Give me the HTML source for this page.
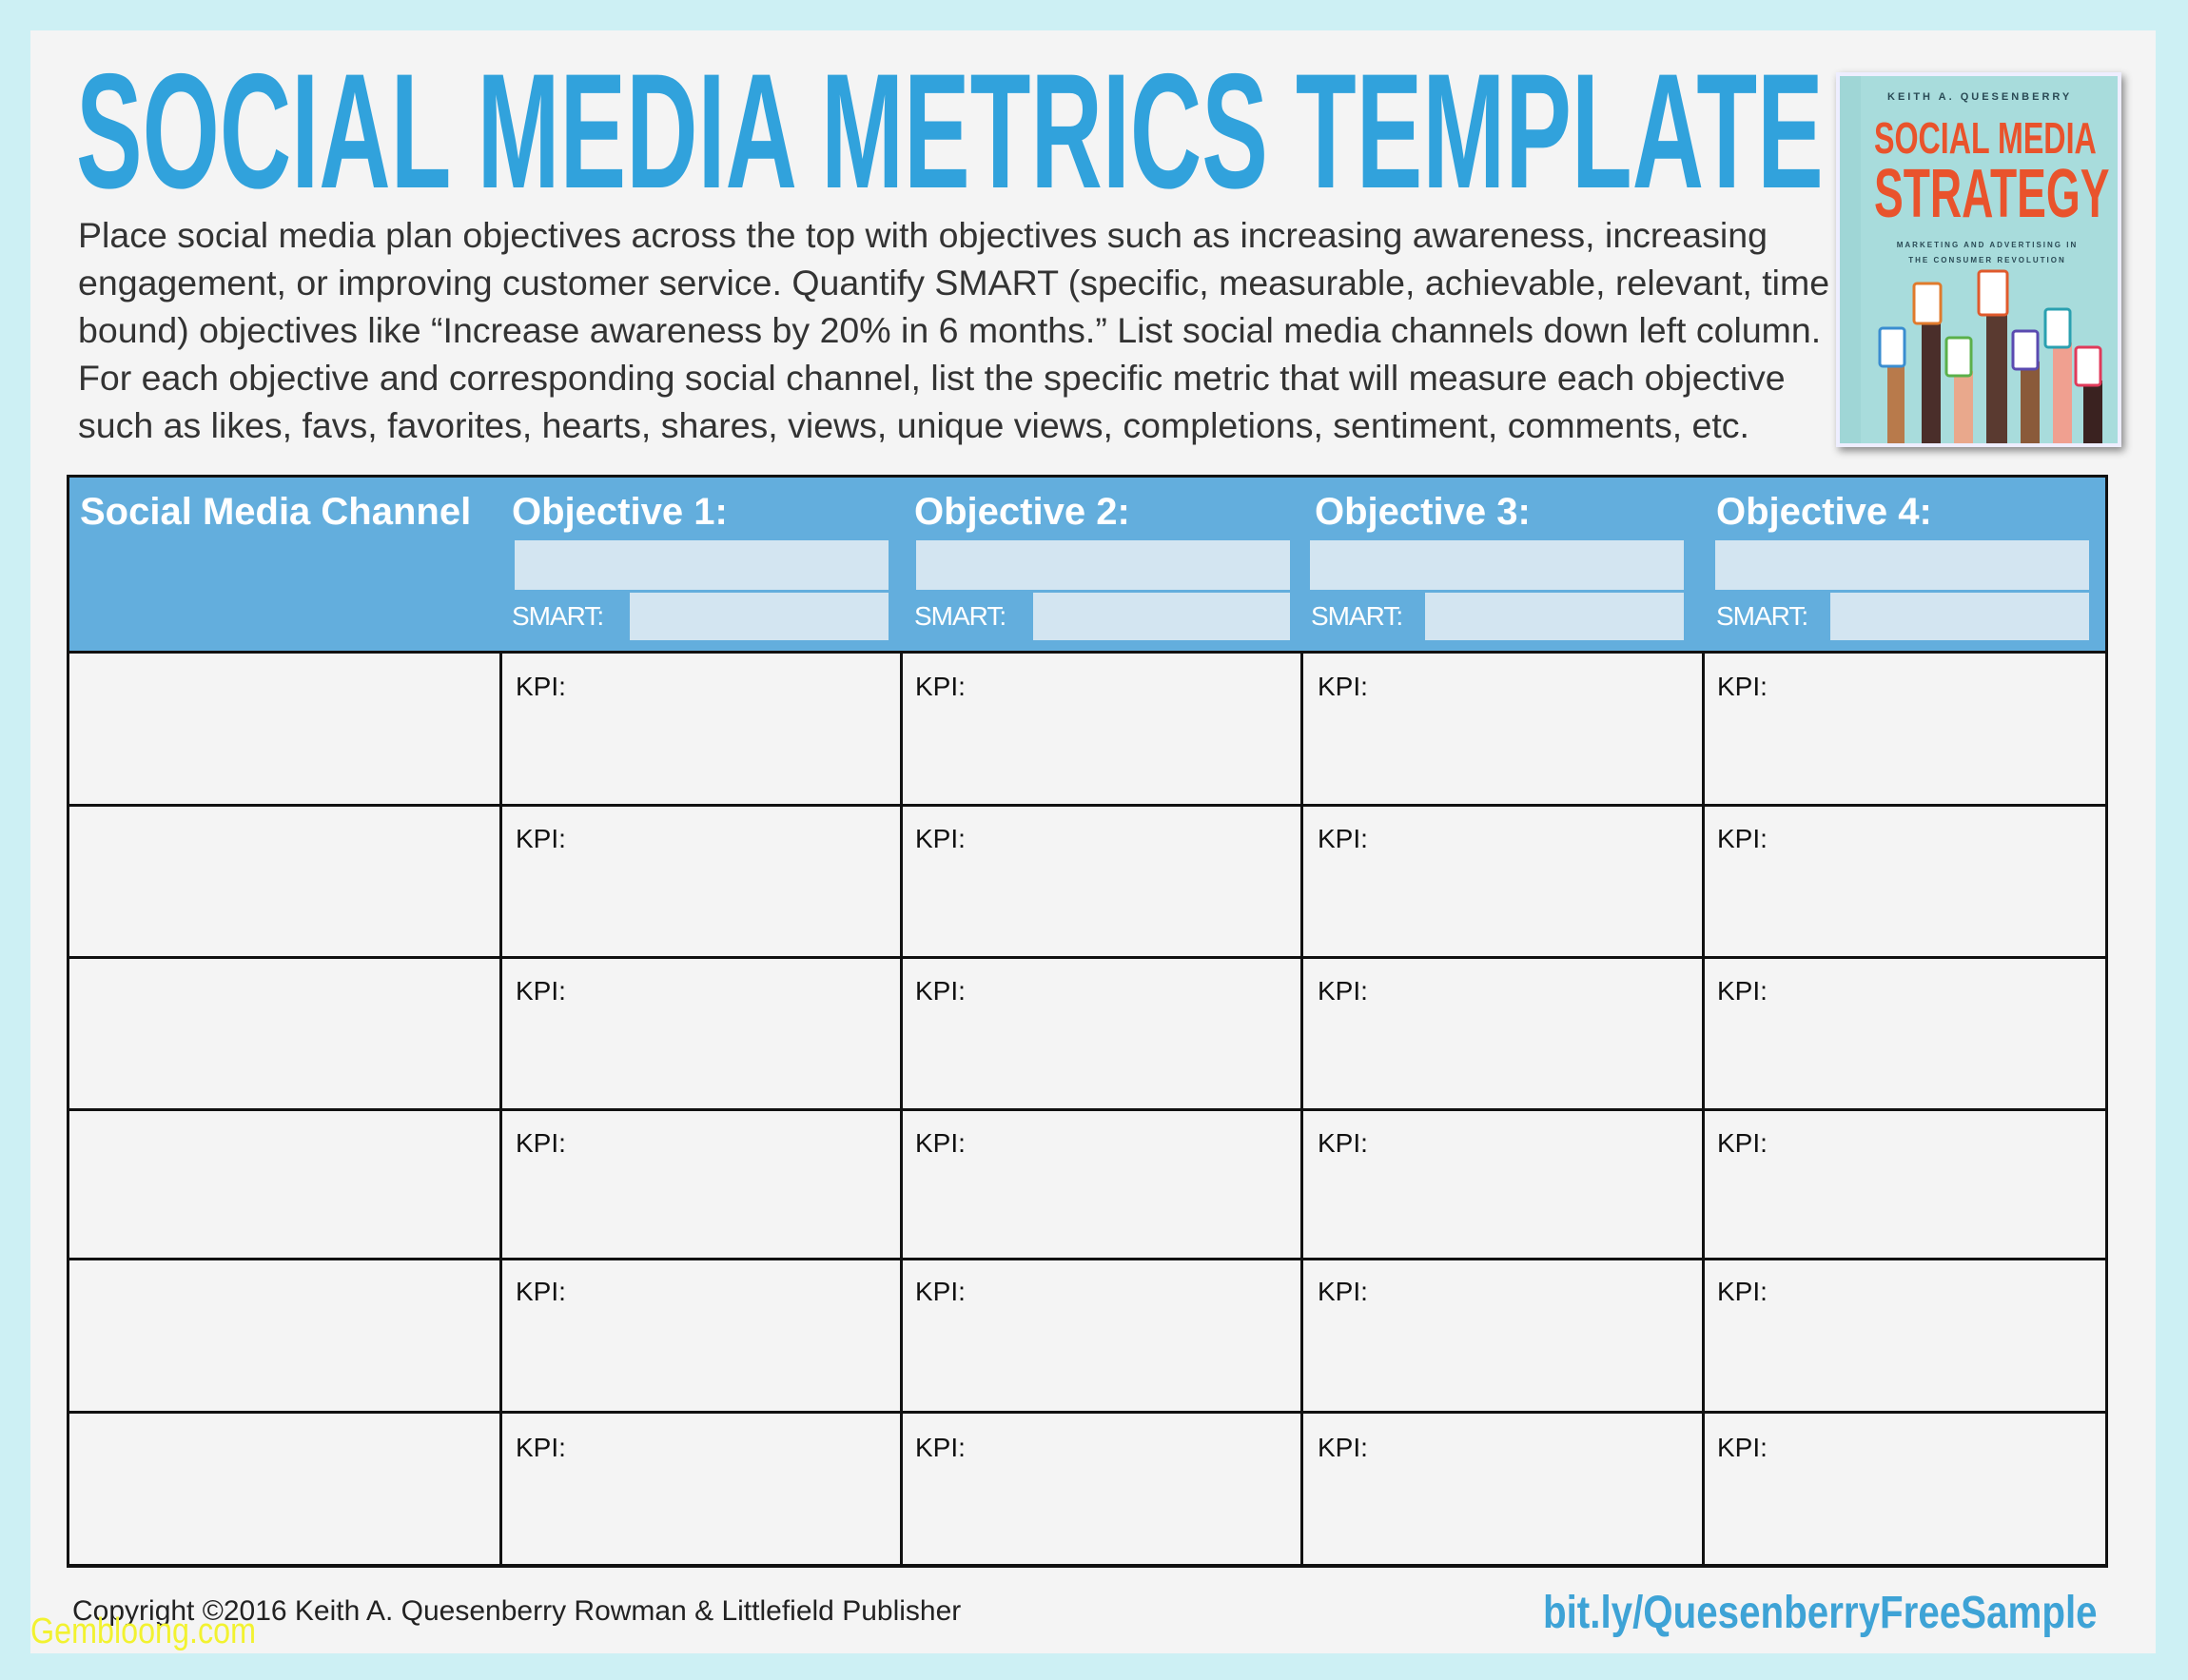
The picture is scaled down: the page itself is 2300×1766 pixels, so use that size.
<!DOCTYPE html>
<html><head><meta charset="utf-8"><style>
*{margin:0;padding:0;box-sizing:border-box}
body{width:2300px;height:1766px;background:#cdf0f4;position:relative;overflow:hidden;font-family:"Liberation Sans",sans-serif}
.panel{position:absolute;left:32px;top:32px;width:2234px;height:1706px;background:#f4f4f4}
.title{position:absolute;left:80px;top:52px;font-weight:bold;font-size:172px;line-height:172px;color:#31a2dc;white-space:nowrap;transform-origin:0 0;transform:scaleX(0.607)}
.para{position:absolute;left:82px;top:222px;width:1860px;font-size:37.5px;line-height:50px;color:#333;white-space:nowrap}
.book{position:absolute;left:1930px;top:76px;width:300px;height:394px;background:#a8dcdc;box-shadow:3px 4px 8px rgba(0,0,0,.45);border:4px solid #eef;overflow:hidden}
.t{position:absolute;box-sizing:border-box}
.hdr{position:absolute;left:70px;top:499px;width:2146px;height:187px;background:#63aedd;border:3px solid #111;border-bottom:none}
.hl{position:absolute;color:#fff;font-weight:bold;font-size:40px;white-space:nowrap}
.box{position:absolute;background:#d3e5f1}
.sm{position:absolute;color:#fff;font-size:28px;letter-spacing:-1px}
.kpi{position:absolute;font-size:28px;color:#111}
.vl{position:absolute;width:3px;background:#111}
.hz{position:absolute;height:3px;background:#111;left:70px;width:2146px}
</style></head><body>
<div class="panel"></div>
<div class="title">SOCIAL MEDIA METRICS TEMPLATE</div>
<div class="para">Place social media plan objectives across the top with objectives such as increasing awareness, increasing<br>engagement, or improving customer service. Quantify SMART (specific, measurable, achievable, relevant, time<br>bound) objectives like “Increase awareness by 20% in 6 months.” List social media channels down left column.<br>For each objective and corresponding social channel, list the specific metric that will measure each objective<br>such as likes, favs, favorites, hearts, shares, views, unique views, completions, sentiment, comments, etc.</div>
<div class="book">
 <div style="position:absolute;left:0;top:0;width:22px;height:394px;background:#9fd6d6"></div>
 <div style="position:absolute;left:50px;top:16px;font-size:11px;letter-spacing:3px;color:#2a4a55;font-weight:bold">KEITH A. QUESENBERRY</div>
 <div style="position:absolute;left:36px;top:42px;font-weight:bold;font-size:46px;line-height:46px;color:#e9532c;transform:scaleX(.7);transform-origin:0 0;white-space:nowrap">SOCIAL MEDIA</div>
 <div style="position:absolute;left:36px;top:88px;font-weight:bold;font-size:72px;line-height:72px;color:#e9532c;transform:scaleX(.64);transform-origin:0 0;white-space:nowrap">STRATEGY</div>
 <div style="position:absolute;left:30px;top:170px;font-size:8px;letter-spacing:2px;color:#2a4a55;font-weight:bold;text-align:center;width:250px;line-height:16px">MARKETING AND ADVERTISING IN<br>THE CONSUMER REVOLUTION</div>
 <svg style="position:absolute;left:0;top:0" width="300" height="394">
  <g>
   <rect x="50" y="300" width="18" height="94" fill="#b87a4b"/><rect x="42" y="265" width="26" height="40" rx="3" fill="#fff" stroke="#3a8dd0" stroke-width="3"/>
   <rect x="86" y="250" width="20" height="144" fill="#4a2e2a"/><rect x="78" y="218" width="28" height="42" rx="3" fill="#fff" stroke="#e07a2c" stroke-width="3"/>
   <rect x="120" y="310" width="20" height="84" fill="#e9a88c"/><rect x="112" y="275" width="26" height="40" rx="3" fill="#fff" stroke="#5ab04a" stroke-width="3"/>
   <rect x="154" y="245" width="22" height="149" fill="#5a3a30"/><rect x="146" y="205" width="30" height="46" rx="3" fill="#fff" stroke="#e05a2c" stroke-width="3"/>
   <rect x="190" y="300" width="20" height="94" fill="#8a5a3a"/><rect x="182" y="268" width="26" height="40" rx="3" fill="#fff" stroke="#5a4ab0" stroke-width="3"/>
   <rect x="224" y="280" width="20" height="114" fill="#f0a090"/><rect x="216" y="245" width="26" height="40" rx="3" fill="#fff" stroke="#2aa0b0" stroke-width="3"/>
   <rect x="256" y="320" width="20" height="74" fill="#3a2220"/><rect x="248" y="285" width="26" height="40" rx="3" fill="#fff" stroke="#e03a5a" stroke-width="3"/>
  </g>
 </svg>
</div>

<div class="hdr"></div>
<div class="hl" style="left:84px;top:516px">Social Media Channel</div>
<div class="hl" style="left:538px;top:516px">Objective 1:</div>
<div class="hl" style="left:961px;top:516px">Objective 2:</div>
<div class="hl" style="left:1382px;top:516px">Objective 3:</div>
<div class="hl" style="left:1804px;top:516px">Objective 4:</div>
<div class="box" style="left:541px;top:568px;width:393px;height:52px"></div>
<div class="box" style="left:963px;top:568px;width:393px;height:52px"></div>
<div class="box" style="left:1377px;top:568px;width:393px;height:52px"></div>
<div class="box" style="left:1803px;top:568px;width:393px;height:52px"></div>
<div class="box" style="left:662px;top:623px;width:272px;height:50px"></div>
<div class="box" style="left:1086px;top:623px;width:270px;height:50px"></div>
<div class="box" style="left:1498px;top:623px;width:272px;height:50px"></div>
<div class="box" style="left:1924px;top:623px;width:272px;height:50px"></div>
<div class="sm" style="left:538px;top:632px">SMART:</div>
<div class="sm" style="left:961px;top:632px">SMART:</div>
<div class="sm" style="left:1378px;top:632px">SMART:</div>
<div class="sm" style="left:1804px;top:632px">SMART:</div>

<div class="hz" style="top:684px"></div>
<div class="hz" style="top:845px"></div>
<div class="hz" style="top:1005px"></div>
<div class="hz" style="top:1165px"></div>
<div class="hz" style="top:1322px"></div>
<div class="hz" style="top:1483px"></div>
<div class="hz" style="top:1644px;height:4px"></div>
<div class="vl" style="left:70px;top:499px;height:1149px"></div>
<div class="vl" style="left:2213px;top:499px;height:1149px"></div>
<div class="vl" style="left:525px;top:684px;height:964px"></div>
<div class="vl" style="left:946px;top:684px;height:964px"></div>
<div class="vl" style="left:1367px;top:684px;height:964px"></div>
<div class="vl" style="left:1789px;top:684px;height:964px"></div>
<div class="t" style="left:70px;top:499px;width:2146px;height:3px;background:#111"></div>

<div class="kpi" style="left:542px;top:706px">KPI:</div><div class="kpi" style="left:962px;top:706px">KPI:</div><div class="kpi" style="left:1385px;top:706px">KPI:</div><div class="kpi" style="left:1805px;top:706px">KPI:</div>
<div class="kpi" style="left:542px;top:866px">KPI:</div><div class="kpi" style="left:962px;top:866px">KPI:</div><div class="kpi" style="left:1385px;top:866px">KPI:</div><div class="kpi" style="left:1805px;top:866px">KPI:</div>
<div class="kpi" style="left:542px;top:1026px">KPI:</div><div class="kpi" style="left:962px;top:1026px">KPI:</div><div class="kpi" style="left:1385px;top:1026px">KPI:</div><div class="kpi" style="left:1805px;top:1026px">KPI:</div>
<div class="kpi" style="left:542px;top:1186px">KPI:</div><div class="kpi" style="left:962px;top:1186px">KPI:</div><div class="kpi" style="left:1385px;top:1186px">KPI:</div><div class="kpi" style="left:1805px;top:1186px">KPI:</div>
<div class="kpi" style="left:542px;top:1342px">KPI:</div><div class="kpi" style="left:962px;top:1342px">KPI:</div><div class="kpi" style="left:1385px;top:1342px">KPI:</div><div class="kpi" style="left:1805px;top:1342px">KPI:</div>
<div class="kpi" style="left:542px;top:1506px">KPI:</div><div class="kpi" style="left:962px;top:1506px">KPI:</div><div class="kpi" style="left:1385px;top:1506px">KPI:</div><div class="kpi" style="left:1805px;top:1506px">KPI:</div>

<div style="position:absolute;left:76px;top:1677px;font-size:30px;color:#222;white-space:nowrap">Copyright ©2016 Keith A. Quesenberry Rowman &amp; Littlefield Publisher</div>
<div style="position:absolute;left:32px;top:1694px;font-size:38px;color:#f2f230;white-space:nowrap;transform:scaleX(.85);transform-origin:0 0">Gembloong.com</div>
<div style="position:absolute;right:95px;top:1668px;font-weight:bold;font-size:48px;color:#3ea3d6;white-space:nowrap;transform:scaleX(.84);transform-origin:100% 0">bit.ly/QuesenberryFreeSample</div>
</body></html>
